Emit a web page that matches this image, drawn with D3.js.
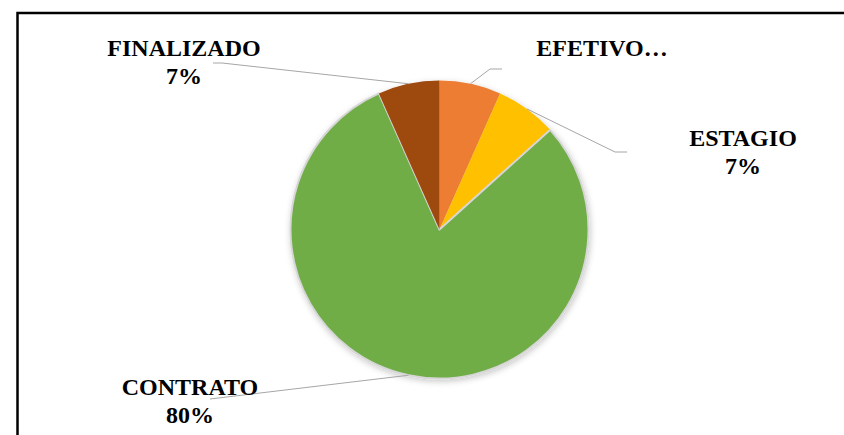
<!DOCTYPE html>
<html>
<head>
<meta charset="utf-8">
<script src="https://cdn.jsdelivr.net/npm/d3@7"></script>
<style>
  html, body { margin: 0; padding: 0; background: #fff; }
  svg { display: block; }
  .lbl { font-family: "Liberation Serif", "Times New Roman", serif; font-weight: bold; font-size: 24px; fill: #000; }
</style>
</head>
<body>
<svg id="chart" width="844" height="435"></svg>
<script>
// Employee status counts
const categories = ["EFETIVO", "ESTAGIO", "CONTRATO", "FINALIZADO"];
const counts = [4, 4, 48, 4];
const colors = ["#ED7D31", "#FFC000", "#70AD47", "#9E480E"];
// Label text lines; EFETIVO's label is shown truncated
const labelLines = [["EFETIVO…"], null, null, null];
// Label anchor points (centre x, first baseline y) and leader elbows
const labelPos = [[602, 56], [743, 146], [190, 395], [184, 56]];
const leaderEnds = [[[490, 69], [502, 69]], [[615, 152], [627, 152]], [[210, 399]], [[222, 63], [213, 63]]];

const svg = d3.select("#chart");
const W = 844, H = 435;
const cx = 439.5, cy = 229.5, r = 149;

// Frame
svg.append("rect")
  .attr("x", 17.5).attr("y", 13)
  .attr("width", 900).attr("height", 500)
  .attr("fill", "none").attr("stroke", "#000").attr("stroke-width", 2.5);

const defs = svg.append("defs");
const f = defs.append("filter").attr("id", "shadow")
  .attr("x", "-20%").attr("y", "-20%").attr("width", "140%").attr("height", "140%");
f.append("feDropShadow").attr("dx", 1).attr("dy", 2).attr("stdDeviation", 3)
  .attr("flood-color", "#000").attr("flood-opacity", 0.22);

const total = d3.sum(counts);
const data = categories.map((c, i) => ({ name: c, value: counts[i], color: colors[i], idx: i }));

const pie = d3.pie().value(d => d.value).sort(null);
const arcs = pie(data);
const arc = d3.arc().innerRadius(0).outerRadius(r);

const g = svg.append("g").attr("transform", `translate(${cx},${cy})`);
const pieG = g.append("g").attr("filter", "url(#shadow)");
pieG.selectAll("path")
  .data(arcs)
  .join("path")
  .attr("d", arc)
  .attr("fill", d => d.data.color)
  .attr("stroke", d => d.data.name === "CONTRATO" ? "#d6d6d6" : "none")
  .attr("stroke-width", 2)
  .attr("stroke-linejoin", "round");

// Leader lines from each slice's outer midpoint to its label
const edgeArc = d3.arc().innerRadius(r).outerRadius(r);
arcs.forEach((a, i) => {
  const [ex, ey] = edgeArc.centroid(a);
  const pts = [[cx + ex, cy + ey]].concat(leaderEnds[i]);
  svg.append("path")
    .attr("d", d3.line()(pts))
    .attr("fill", "none")
    .attr("stroke", "#a6a6a6")
    .attr("stroke-width", 1);
});

// Labels: category and rounded percentage
const fmt = v => Math.round(v / total * 100) + "%";
arcs.forEach((a, i) => {
  const lines = labelLines[i] || [a.data.name, fmt(a.data.value)];
  const t = svg.append("text").attr("class", "lbl")
    .attr("text-anchor", "middle")
    .attr("x", labelPos[i][0]).attr("y", labelPos[i][1]);
  lines.forEach((s, k) => {
    t.append("tspan").attr("x", labelPos[i][0]).attr("dy", k === 0 ? 0 : 28).text(s);
  });
});
</script>
</body>
</html>
